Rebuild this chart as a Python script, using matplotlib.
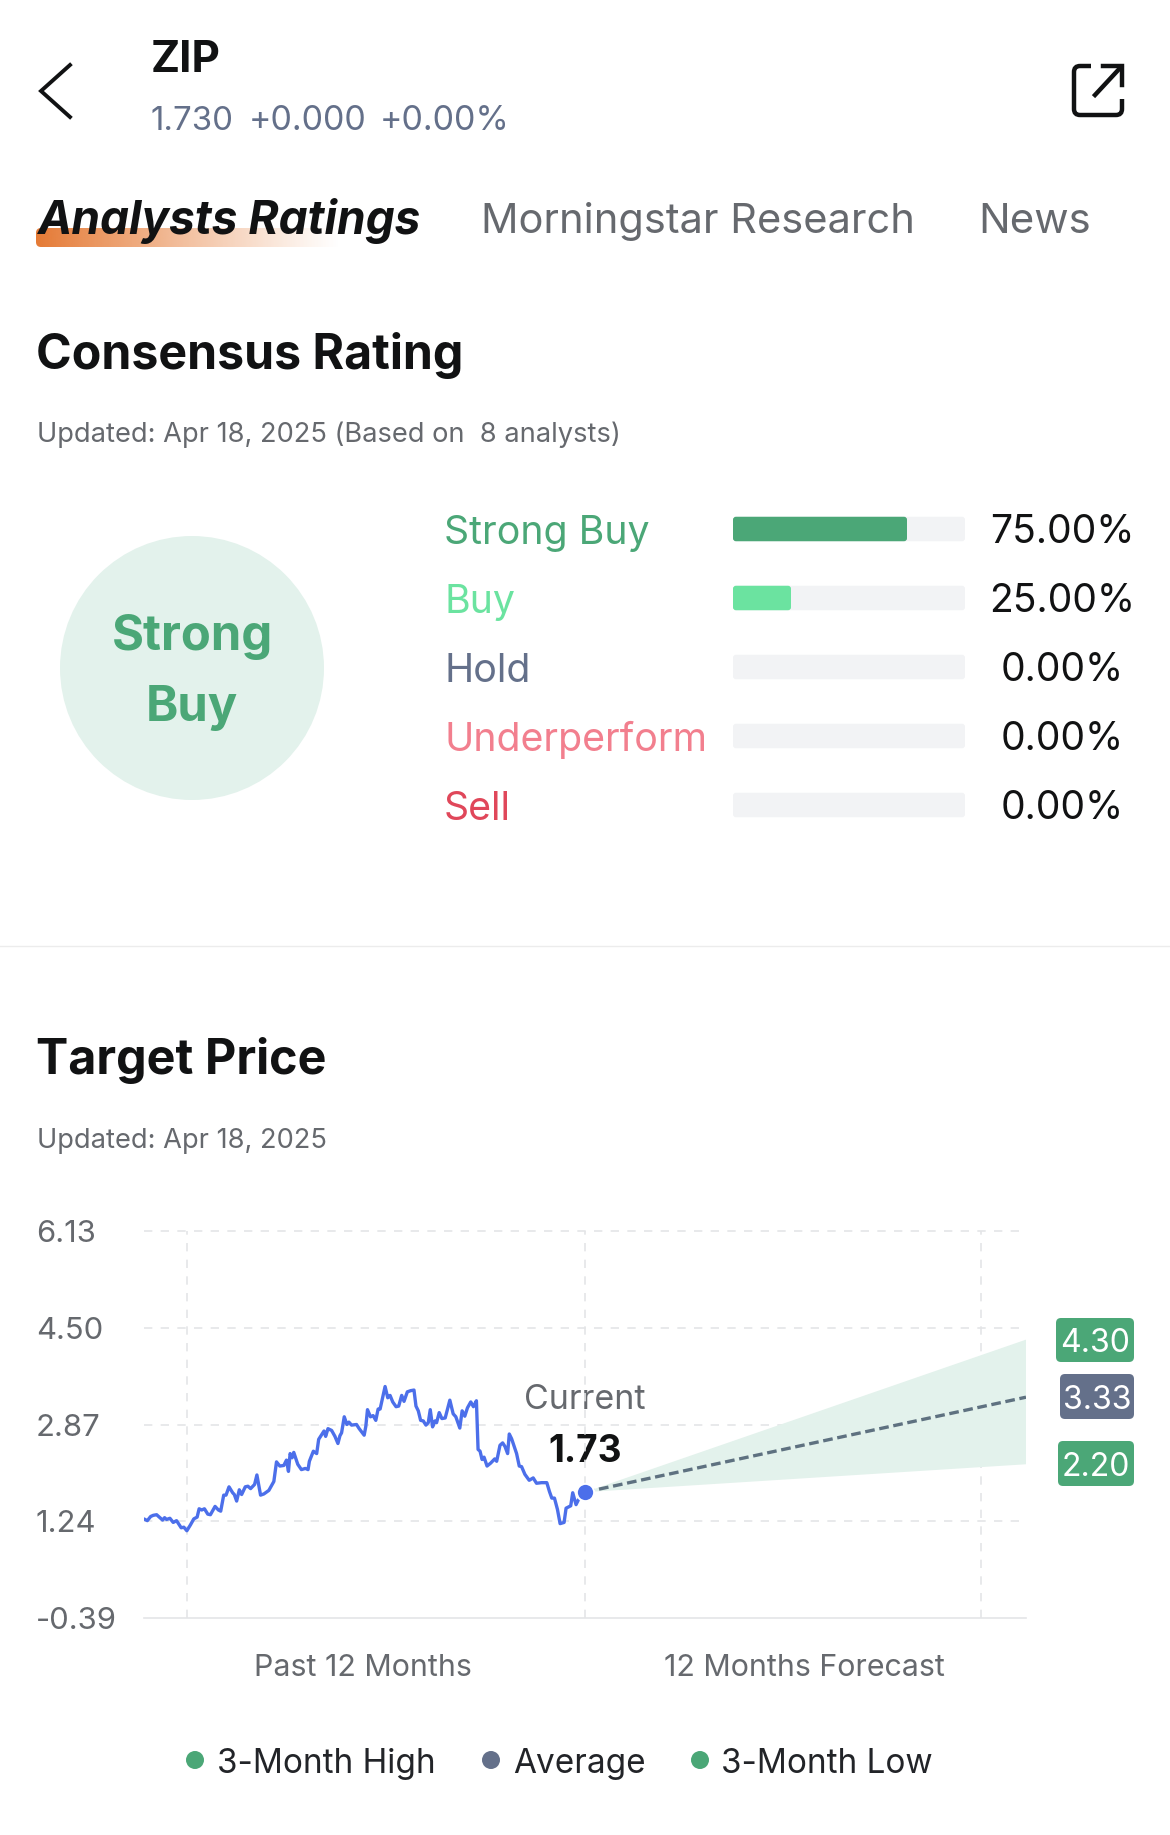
import numpy as np
import matplotlib
matplotlib.use('Agg')
import matplotlib.pyplot as plt
from matplotlib.patches import Circle, FancyBboxPatch
from matplotlib.path import Path
from matplotlib.patches import PathPatch
from matplotlib.colors import to_rgb

plt.rcParams['font.family'] = ['Inter', 'DejaVu Sans']

GREEN = '#4BA777'
LIGHT_GREEN = '#6BE3A0'
SLATE = '#64708A'
PINK = '#F27F8E'
RED = '#E0475A'
GREY = '#66696E'
INK = '#111213'
BLUE = '#4C6FEA'

# consensus
rating_names = ['Strong Buy', 'Buy', 'Hold', 'Underperform', 'Sell']
rating_pct = [75.0, 25.0, 0.0, 0.0, 0.0]
rating_colors = [GREEN, LIGHT_GREEN, SLATE, PINK, RED]

# price history, months relative to today
months = [-13.25, -13.18, -13.08, -13.00, -12.90, -12.80, -12.72, -12.66, -12.60, -12.50, -12.40, -12.30,
          -12.16, -12.08, -11.99, -11.88, -11.78, -11.68, -11.62, -11.54, -11.46, -11.36, -11.28, -11.14,
          -11.04, -10.97, -10.88, -10.81, -10.72, -10.61, -10.56, -10.49, -10.41, -10.34, -10.23, -10.15,
          -10.07, -9.95, -9.88, -9.77, -9.67, -9.52, -9.37, -9.29, -9.19, -9.07, -8.99, -8.93,
          -8.88, -8.82, -8.77, -8.65, -8.54, -8.42, -8.34, -8.30, -8.18, -8.08, -8.02, -7.93,
          -7.86, -7.81, -7.74, -7.63, -7.53, -7.44, -7.38, -7.33, -7.25, -7.17, -7.11, -7.03,
          -6.88, -6.80, -6.65, -6.60, -6.55, -6.46, -6.38, -6.30, -6.23, -6.17, -6.02, -5.94,
          -5.87, -5.79, -5.69, -5.61, -5.52, -5.45, -5.35, -5.25, -5.15, -5.09, -5.02, -4.95,
          -4.87, -4.79, -4.72, -4.66, -4.59, -4.52, -4.47, -4.39, -4.31, -4.21, -4.07, -3.97,
          -3.89, -3.77, -3.70, -3.62, -3.54, -3.44, -3.36, -3.27, -3.22, -3.16, -3.10, -3.04,
          -2.95, -2.84, -2.72, -2.66, -2.56, -2.48, -2.41, -2.33, -2.28, -2.21, -2.06, -1.98,
          -1.91, -1.81, -1.68, -1.56, -1.46, -1.31, -1.15, -1.07, -1.00, -0.92, -0.83, -0.75,
          -0.63, -0.57, -0.43, -0.37, -0.27, -0.20, 0.0]
prices = [1.27, 1.25, 1.32, 1.34, 1.35, 1.30, 1.26, 1.30, 1.27, 1.29, 1.22, 1.25,
          1.13, 1.14, 1.08, 1.18, 1.28, 1.31, 1.45, 1.43, 1.45, 1.36, 1.35, 1.49,
          1.43, 1.41, 1.68, 1.68, 1.82, 1.72, 1.69, 1.58, 1.77, 1.69, 1.82, 1.83,
          1.79, 1.86, 2.02, 1.68, 1.70, 1.76, 1.91, 2.24, 2.17, 2.18, 2.27, 2.08,
          2.38, 2.31, 2.40, 2.20, 2.11, 2.13, 2.11, 2.25, 2.42, 2.38, 2.62, 2.70,
          2.76, 2.67, 2.80, 2.77, 2.67, 2.55, 2.68, 2.73, 3.00, 2.87, 2.91, 2.86,
          2.87, 2.80, 2.69, 2.84, 3.12, 3.00, 3.02, 2.94, 3.13, 3.13, 3.51, 3.32,
          3.36, 3.25, 3.17, 3.18, 3.36, 3.26, 3.42, 3.44, 3.45, 3.18, 3.10, 2.94,
          2.93, 2.86, 2.90, 3.12, 2.83, 2.93, 2.90, 3.07, 2.97, 2.98, 3.28, 3.05,
          3.00, 2.81, 3.10, 3.01, 3.15, 3.25, 3.17, 3.27, 2.45, 2.42, 2.28, 2.32,
          2.17, 2.22, 2.29, 2.25, 2.52, 2.56, 2.50, 2.38, 2.71, 2.63, 2.38, 2.17,
          2.16, 2.03, 1.93, 1.97, 1.88, 1.89, 1.89, 1.74, 1.63, 1.63, 1.44, 1.20,
          1.22, 1.46, 1.50, 1.72, 1.52, 1.60, 1.73]

current = 1.73
target_high = 4.30
target_avg = 3.33
target_low = 2.20
forecast_end = 13.28

y_ticks = [-0.39, 1.24, 2.87, 4.50, 6.13]
y_labels = ['-0.39', '1.24', '2.87', '4.50', '6.13']
x_guides = [-12, 0, 11.93]
legend_items = [('3-Month High', GREEN), ('Average', SLATE), ('3-Month Low', GREEN)]

W, H = 1170, 1835
fig = plt.figure(figsize=(W / 100, H / 100), dpi=100, facecolor='white')


def px_axes(left, top, right, bottom, **kw):
    return fig.add_axes([left / W, 1 - bottom / H, (right - left) / W, (bottom - top) / H], **kw)


def fs(px):
    return px * 0.72


ui = px_axes(0, 0, W, H)
ui.set_xlim(0, W)
ui.set_ylim(H, 0)
ui.axis('off')


def label(x, y, s, size, color=INK, weight='normal', ha='left', va='baseline', **kw):
    ui.text(x, y, s, fontsize=fs(size), color=color, fontweight=weight, ha=ha, va=va, **kw)


# header
ui.plot([70, 41, 70], [65, 91, 117], color=INK, lw=2.8, solid_joinstyle='miter')
icon = Path([(1091, 66), (1080, 66), (1074, 66), (1074, 72), (1074, 109), (1074, 115), (1080, 115),
             (1116, 115), (1122, 115), (1122, 109), (1122, 99)],
            [Path.MOVETO, Path.LINETO, Path.CURVE3, Path.CURVE3, Path.LINETO, Path.CURVE3, Path.CURVE3,
             Path.LINETO, Path.CURVE3, Path.CURVE3, Path.LINETO])
ui.add_patch(PathPatch(icon, fill=False, ec=INK, lw=3.2))
ui.plot([1103, 1122, 1122], [66, 66, 85], color=INK, lw=3.2, solid_joinstyle='miter')
ui.plot([1095, 1121], [95, 67], color=INK, lw=3.2)
label(151, 72, 'ZIP', 44, weight='bold')
label(151, 130, '1.730', 33, SLATE)
label(249, 130, '+0.000', 34, SLATE)
label(380, 130, '+0.00%', 34, SLATE)

# tabs
rgb = to_rgb('#E57A35')
grad = np.zeros((1, 256, 4))
grad[..., :3] = rgb
grad[..., 3] = np.linspace(1, 0, 256) ** 1.1
im = ui.imshow(grad, extent=(36, 340, 247, 228), aspect='auto', zorder=1)
im.set_clip_path(FancyBboxPatch((36, 228), 320, 19, boxstyle='round,pad=0,rounding_size=5', transform=ui.transData))
ui.set_xlim(0, W)
ui.set_ylim(H, 0)
label(38, 234, 'Analysts Ratings', 46, weight='bold', style='italic', zorder=2)
label(481, 233, 'Morningstar Research', 41.6, GREY)
label(978, 233, 'News', 42, GREY)

# consensus
label(36, 369, 'Consensus Rating', 48.3, weight='bold')
label(37, 442, 'Updated: Apr 18, 2025 (Based on  8 analysts)', 27.3, GREY)
ui.add_patch(Circle((192, 668), 132, fc='#E3F2EC', ec='none'))
label(192, 637, 'Strong', 49, GREEN, 'bold', ha='center', va='center')
label(192, 708, 'Buy', 49, GREEN, 'bold', ha='center', va='center')

# bars, 5 rows of 69 px centred on row_px
bars = px_axes(733, 494.5, 965, 839.5)
bars.set_xlim(0, 100)
bars.set_ylim(4.5, -0.5)
bars.axis('off')
bar_h = 0.355
bar_style = 'round,pad=0,rounding_size=1.3'
for i, pct in enumerate(rating_pct):
    bars.add_patch(FancyBboxPatch((0, i - bar_h / 2), 100, bar_h, boxstyle=bar_style, mutation_aspect=0.033,
                                  fc='#F2F3F5', ec='none'))
    if pct > 0:
        bars.add_patch(FancyBboxPatch((0, i - bar_h / 2), pct, bar_h, boxstyle=bar_style, mutation_aspect=0.033,
                                      fc=rating_colors[i], ec='none'))
row_px = [529, 598, 667, 736, 805]
for y, name, pct, col in zip(row_px, rating_names, rating_pct, rating_colors):
    label(444, y, name, 39.3, col, va='center_baseline')
    label(1062, y - 1, f'{pct:.2f}%', 39, INK, ha='center', va='center_baseline')

ui.plot([0, W], [946, 946], color='#ECECEC', lw=1)

# target price
label(36, 1074, 'Target Price', 48.5, weight='bold')
label(37, 1148, 'Updated: Apr 18, 2025', 27.3, GREY)

# y span: -0.39 at 1618 px, 6.13 at 1231 px
ax = px_axes(144, 1231, 1026, 1618, facecolor='none')
ax.set_xlim(-forecast_end, forecast_end)
ax.set_ylim(y_ticks[0], y_ticks[-1])
for s in ['top', 'right', 'left']:
    ax.spines[s].set_visible(False)
ax.spines['bottom'].set_color('#E4E5E7')
ax.spines['bottom'].set_linewidth(1.2)
ax.set_yticks(y_ticks)
ax.set_yticklabels(y_labels, fontsize=fs(31), color=GREY, ha='left')
ax.tick_params(axis='y', length=0, pad=78)
ax.set_xticks([])
for y in y_ticks[1:]:
    ax.axhline(y, color='#E4E5E7', lw=1.2, ls=(0, (5, 5)), zorder=1, clip_on=False)
for x in x_guides:
    ax.axvline(x, color='#E4E5E7', lw=1.2, ls=(0, (5, 5)), zorder=1)

ax.fill([0, forecast_end, forecast_end], [current, target_high, target_low], color='#E3F2EC', lw=0, zorder=2)
ax.plot([0, forecast_end], [current, target_avg], color='#5E7180', lw=2.4, ls=(0, (2.9, 1.4)), zorder=3)
ax.plot(months, prices, color=BLUE, lw=2.4, zorder=4, solid_joinstyle='round')
ax.plot([0], [current], 'o', ms=12.5, mfc=BLUE, mec='white', mew=1.5, zorder=5, clip_on=False)

label(585, 1396, 'Current', 34, GREY, ha='center', va='center_baseline')
label(585, 1448, '1.73', 37, INK, 'bold', ha='center', va='center_baseline')

# end badges
for (l, t, r, b), val, col in [((1056, 1318, 1134, 1362), target_high, GREEN),
                               ((1060, 1374, 1134, 1419), target_avg, SLATE),
                               ((1058, 1441, 1134, 1486), target_low, GREEN)]:
    ui.add_patch(FancyBboxPatch((l, t), r - l, b - t, boxstyle='round,pad=0,rounding_size=5', fc=col, ec='none'))
    label((l + r) / 2, (t + b) / 2, f'{val:.2f}', 32, 'white', ha='center', va='center_baseline')

label(363, 1665, 'Past 12 Months', 30.4, GREY, ha='center', va='center_baseline')
label(804, 1665, '12 Months Forecast', 30.4, GREY, ha='center', va='center_baseline')

# legend
for (name, col), xd, xt in zip(legend_items, [195, 491, 700], [217, 513, 721]):
    ui.add_patch(Circle((xd, 1760), 9, fc=col, ec='none'))
    label(xt, 1760, name, 33.3, '#222428', va='center_baseline')

fig.savefig('out.png', dpi=100)
